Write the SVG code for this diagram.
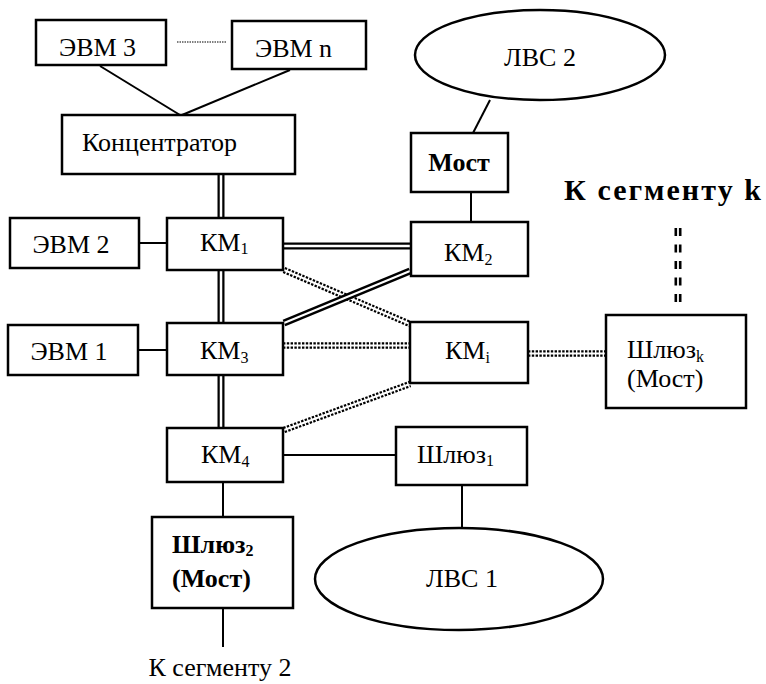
<svg xmlns="http://www.w3.org/2000/svg" width="766" height="684" viewBox="0 0 766 684">
<style>
.box{fill:#fff;stroke:#000;stroke-width:2.5}
.ell{fill:#fff;stroke:#000;stroke-width:2.5}
.t{font-family:"Liberation Serif","Times New Roman",serif;font-size:26px;fill:#000}
.b{font-weight:bold}
.sub{font-size:16px}
.big{font-size:30px}
.ln{stroke:#000;stroke-width:2;fill:none}
.dblK{stroke:#000;stroke-width:7;fill:none}
.dblW{stroke:#fff;stroke-width:2.5;fill:none}
.dotK{stroke:#000;stroke-width:6.5;fill:none;stroke-dasharray:2.4 1.4}
.dotW{stroke:#fff;stroke-width:2;fill:none}
</style>
<rect width="766" height="684" fill="#fff"/>
<g id="connectors">
<line class="ln" x1="100" y1="66" x2="180" y2="115"/>
<line class="ln" x1="290" y1="70" x2="182" y2="115"/>
<line x1="177" y1="42" x2="226" y2="42" stroke="#000" stroke-width="1.2" stroke-dasharray="1.5 1"/>
<line class="ln" x1="139" y1="243" x2="167" y2="243"/>
<line class="ln" x1="138" y1="350" x2="167" y2="350"/>
<line class="ln" x1="490" y1="100" x2="473" y2="133"/>
<line class="ln" x1="471" y1="192" x2="471" y2="222"/>
<line class="ln" x1="283" y1="455" x2="396" y2="455"/>
<line class="ln" x1="462" y1="485" x2="462" y2="528"/>
<line class="ln" x1="223" y1="482" x2="223" y2="517"/>
<line class="ln" x1="223" y1="608" x2="223" y2="647"/>
<g id="spine">
<path class="dblK" d="M221 174V218M221 270V323M221 375V428"/>
<path class="dblW" d="M221 174V218M221 270V323M221 375V428"/>
</g>
<path class="dblK" d="M283 246H411" stroke-width="6.5"/>
<path class="dblW" d="M283 246H411" stroke-width="2"/>
<path class="dotK" d="M284 270L410 324M283 345.5H410M284 430L410 384M528 353.5H606"/>
<path class="dotW" d="M284 270L410 324M283 345.5H410M284 430L410 384M528 353.5H606"/>
<path d="M678 228V308" stroke="#000" stroke-width="7" stroke-dasharray="8 8.5" fill="none"/>
<path d="M678 226V310" stroke="#fff" stroke-width="1.8" fill="none"/>
<path d="M284 323L410 271" stroke="#000" stroke-width="7" fill="none"/>
<path d="M284 323L410 271" stroke="#fff" stroke-width="2" fill="none"/>
</g>
<g id="evm3"><rect class="box" x="36" y="20" width="130" height="45"/><text class="t" x="59" y="56">ЭВМ 3</text></g>
<g id="evmn"><rect class="box" x="232" y="21" width="134" height="48"/><text class="t" x="255" y="57">ЭВМ n</text></g>
<g id="hub"><rect class="box" x="62" y="115" width="233" height="59"/><text class="t" x="82" y="151">Концентратор</text></g>
<g id="lvs2"><ellipse class="ell" cx="540" cy="55" rx="125" ry="45"/><text class="t" x="540" y="66" text-anchor="middle">ЛВС 2</text></g>
<g id="most"><rect class="box" x="411" y="133" width="97" height="59"/><text class="t b" x="459" y="171" text-anchor="middle">Мост</text></g>
<g id="evm2"><rect class="box" x="10" y="218" width="129" height="50"/><text class="t" x="71" y="253" text-anchor="middle">ЭВМ 2</text></g>
<g id="km1"><rect class="box" x="167" y="218" width="116" height="52"/><text class="t" x="200" y="251">КМ<tspan class="sub" dy="3">1</tspan></text></g>
<g id="km2"><rect class="box" x="411" y="222" width="117" height="54"/><text class="t" x="444" y="261">КМ<tspan class="sub" dy="4">2</tspan></text></g>
<g id="evm1"><rect class="box" x="8" y="325" width="130" height="50"/><text class="t" x="69" y="360" text-anchor="middle">ЭВМ 1</text></g>
<g id="km3"><rect class="box" x="167" y="323" width="116" height="52"/><text class="t" x="200" y="359">КМ<tspan class="sub" dy="4">3</tspan></text></g>
<g id="kmi"><rect class="box" x="410" y="322" width="118" height="61"/><text class="t" x="445" y="359">КМ<tspan class="sub" dy="4">i</tspan></text></g>
<g id="shlk"><rect class="box" x="606" y="315" width="140" height="93"/><text class="t" x="627" y="358">Шлюз<tspan class="sub" dy="4">k</tspan></text><text class="t" x="627" y="387">(Мост)</text></g>
<text class="t b big" x="564" y="200" textLength="197" lengthAdjust="spacing">К сегменту k</text>
<g id="km4"><rect class="box" x="167" y="428" width="116" height="54"/><text class="t" x="201" y="463">КМ<tspan class="sub" dy="4">4</tspan></text></g>
<g id="shl1"><rect class="box" x="396" y="427" width="131" height="58"/><text class="t" x="417" y="463">Шлюз<tspan class="sub" dy="3">1</tspan></text></g>
<g id="shl2"><rect class="box" x="152" y="517" width="141" height="91"/><text class="t b" x="172" y="553">Шлюз<tspan class="sub" dy="3">2</tspan></text><text class="t b" x="172" y="587">(Мост)</text></g>
<g id="lvs1"><ellipse class="ell" cx="459" cy="579" rx="144" ry="51"/><text class="t" x="462" y="587" text-anchor="middle">ЛВС 1</text></g>
<text class="t" x="220" y="676" text-anchor="middle">К сегменту 2</text>
</svg>
